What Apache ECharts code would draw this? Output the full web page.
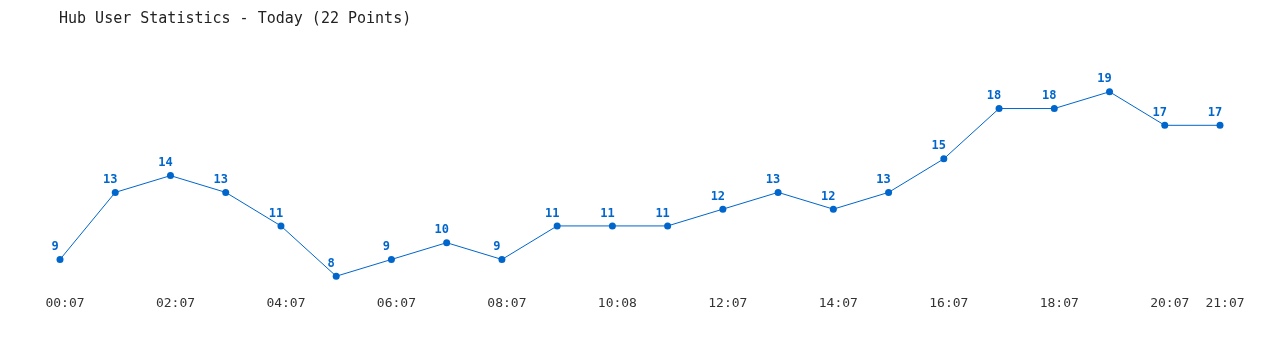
<!DOCTYPE html>
<html><head><meta charset="utf-8">
<script src="https://cdn.jsdelivr.net/npm/echarts@6/dist/echarts.min.js"></script>
<style>html,body{margin:0;padding:0;background:#fff}#c{width:1280px;height:350px}</style>
</head><body><div id="c"></div>
<script>
const titleText = 'Hub User Statistics - Today (22 Points)';
const categories = ['00:07','01:07','02:07','03:07','04:07','05:07','06:07','07:07','08:07','09:07','10:08','11:07','12:07','13:07','14:07','15:07','16:07','17:07','18:07','19:07','20:07','21:07'];
const users = [9,13,14,13,11,8,9,10,9,11,11,11,12,13,12,13,15,18,18,19,17,17];

const chart = echarts.init(document.getElementById('c'));
chart.setOption({
  animation: false,
  backgroundColor: '#fff',
  title: {
    text: titleText, left: 54, top: 7,
    textStyle: { fontFamily: 'DejaVu Sans Mono', fontSize: 15, fontWeight: 'normal', color: '#222' }
  },
  grid: { left: 60, right: 60, top: 75, bottom: 57 },
  xAxis: {
    type: 'category', data: categories, boundaryGap: false,
    axisLine: { show: false }, axisTick: { show: false }, splitLine: { show: false },
    axisLabel: {
      interval: function(i){ return i % 2 === 0 || i === categories.length - 1; },
      hideOverlap: false, margin: 4, padding: [0,0,0,10],
      fontFamily: 'DejaVu Sans Mono', fontSize: 13, color: '#333'
    }
  },
  yAxis: { type: 'value', min: 7, max: 20, show: false, splitLine: { show: false } },
  series: [{
    type: 'line', data: users,
    symbol: 'circle', symbolSize: 7,
    lineStyle: { color: '#0066cc', width: 1 },
    itemStyle: { color: '#0066cc' },
    label: {
      show: true, position: 'top', distance: 3, offset: [-5, 0],
      fontFamily: 'DejaVu Sans Mono', fontSize: 12, fontWeight: 'bold', color: '#0066cc'
    }
  }]
});
</script></body></html>
